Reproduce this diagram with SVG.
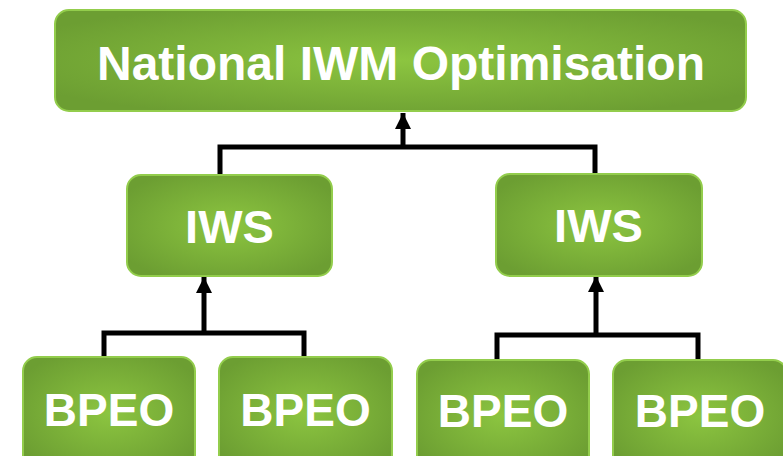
<svg xmlns="http://www.w3.org/2000/svg" width="783" height="456" viewBox="0 0 783 456">
<defs>
<radialGradient id="g" cx="0.5" cy="0.5" r="0.6">
<stop offset="0" stop-color="#8cc540"/>
<stop offset="1" stop-color="#6c9e32"/>
</radialGradient>
<marker id="arr" markerUnits="userSpaceOnUse" markerWidth="18" markerHeight="16" refX="16" refY="8" orient="auto">
<path d="M0,0 L16,8 L0,16 Z" fill="#000"/>
</marker>
<style>
.box{fill:url(#g);stroke:#93cd4c;stroke-width:2}
.t{fill:#fff;font-family:"Liberation Sans",Arial,sans-serif;font-weight:bold;text-anchor:middle}
.c{fill:none;stroke:#000;stroke-width:5;stroke-linejoin:miter}
</style>
</defs>
<rect width="783" height="456" fill="#fff"/>
<g id="connectors">
<path class="c" d="M220,175 V147 H595 V174"/>
<path class="c" d="M403,147 V113" marker-end="url(#arr)"/>
<path class="c" d="M104,357 V333 H304 V357"/>
<path class="c" d="M204,333 V277" marker-end="url(#arr)"/>
<path class="c" d="M497,360 V335 H698 V360"/>
<path class="c" d="M596,335 V276" marker-end="url(#arr)"/>
</g>
<g id="national">
<rect class="box" x="55" y="10" width="691" height="101" rx="14"/>
<text class="t" x="401" y="80" font-size="48">National IWM Optimisation</text>
</g>
<g id="iws1">
<rect class="box" x="127" y="175" width="205" height="101" rx="14"/>
<text class="t" x="229.5" y="243" font-size="47">IWS</text>
</g>
<g id="iws2">
<rect class="box" x="496" y="174" width="206" height="102" rx="14"/>
<text class="t" x="598.5" y="242" font-size="47">IWS</text>
</g>
<g id="bpeo1">
<rect class="box" x="23" y="357" width="172" height="112" rx="14"/>
<text class="t" x="109" y="426" font-size="46">BPEO</text>
</g>
<g id="bpeo2">
<rect class="box" x="219" y="357" width="173" height="112" rx="14"/>
<text class="t" x="305.5" y="426" font-size="46">BPEO</text>
</g>
<g id="bpeo3">
<rect class="box" x="417" y="360" width="172" height="112" rx="14"/>
<text class="t" x="503" y="427" font-size="46">BPEO</text>
</g>
<g id="bpeo4">
<rect class="box" x="613" y="360" width="174" height="112" rx="14"/>
<text class="t" x="700" y="427" font-size="46">BPEO</text>
</g>
</svg>
